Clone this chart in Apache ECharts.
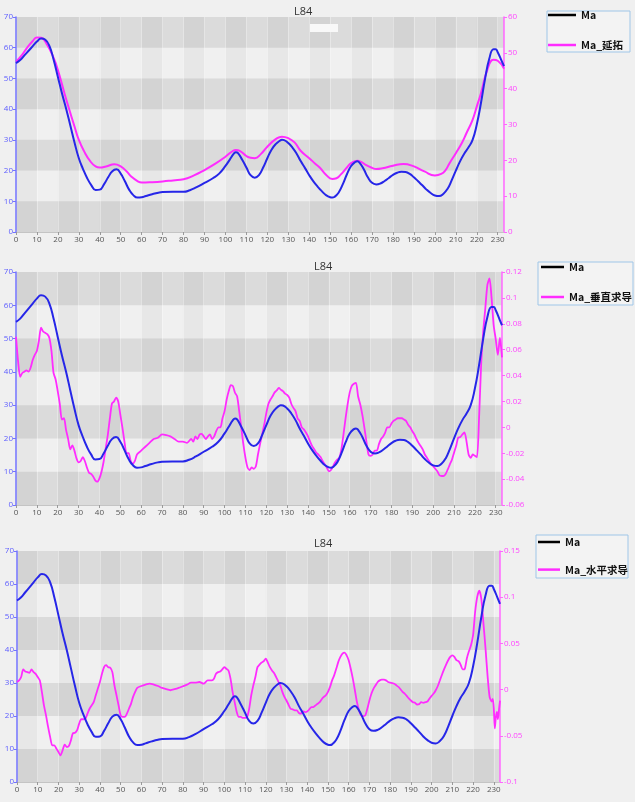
<!DOCTYPE html>
<html><head><meta charset="utf-8">
<script src="https://cdn.jsdelivr.net/npm/echarts@6/dist/echarts.min.js"></script>
<style>html,body{margin:0;padding:0;background:#f0f0f0}#c{width:635px;height:802px}</style>
</head><body><div id="c"></div>
<script>
// ---- data ----
const maX = [0,2,4,6,8,10,12,14,16,18,20,22,24,26,28,30,32,34,36,38,40,42,44,46,48,50,52,54,56,58,60,62,65,68,70,75,80,83,86,90,94,97,100,102,104,105,106,108,110,112,114,116,118,120,122,124,126,127,128,130,132,134,136,138,140,142,144,146,148,150,151,152,154,156,158,160,162,163,164,166,168,170,172,174,176,178,180,182,184,186,188,190,192,194,196,198,200,202,204,206,208,210,212,214,216,218,220,222,224,226,228,229,230,232,233];
const maY = [55,56,57.5,59,60.5,62,63,62.6,60.5,56,50.5,45,40,34.5,29,24,20.5,17.5,15.2,13.7,13.8,15.5,17.8,19.8,20.4,19,16.5,13.8,12,11.2,11.3,11.7,12.3,12.8,13,13.1,13.1,13.6,14.5,16,17.5,19,21.5,23.5,25.5,26,25.7,23.5,21,18.5,17.7,18.5,21,24,26.8,28.6,29.7,30,29.9,29,27.5,25.5,23,20.8,18.5,16.5,14.8,13.3,12,11.3,11.2,11.4,12.8,15.5,18.8,21.5,22.8,23,22.6,20.5,17.8,16,15.5,15.8,16.6,17.6,18.6,19.3,19.6,19.5,18.9,17.8,16.5,15.2,13.8,12.7,11.9,11.7,12.4,14,16.8,20,23,25.5,27.5,30,35,42,50,56.5,59.5,59.5,58.5,55.5,54];

const extX = [0,3,5,8,10,12,15,18,20,23,25,28,30,33,35,38,40,43,47,50,53,55,58,60,65,70,75,80,85,90,95,100,103,105,107,110,112,114,117,120,124,127,130,133,136,140,143,145,148,151,153,155,158,160,163,165,167,170,172,175,180,185,190,195,200,203,205,207,210,213,215,218,220,222,225,228,230,233];
const extY = [47.5,49.5,51.2,53.3,54.3,54.2,52.1,48.5,45.2,39,35,29.3,25.7,22,20.1,18.3,18,18.3,18.9,18.3,16.8,15.5,14.2,13.8,13.9,14.1,14.4,14.7,15.8,17.3,19,21,22.4,22.9,22.6,21.2,20.7,20.6,21.8,23.8,25.9,26.6,26.2,25,22.6,20.6,19,18,16,14.8,15,16,18,19.2,19.9,19.5,18.7,17.9,17.6,17.8,18.5,19,18.3,16.9,15.8,16.2,17.2,19.2,22,25,27.5,31.3,35,38.7,45.2,48.1,47.8,45.6];

const vertX = [0,1,2,3,4,5,6,7,8,9,10,11,12,13,14,15,16,17,18,19,20,21,22,23,24,25,26,27,28,29,30,31,32,33,34,35,36,37,38,39,40,41,42,43,44,45,46,47,48,49,50,51,52,53,54,55,56,57,58,
60,62,64,66,68,70,72,74,76,78,80,82,
84,85,86,87,88,89,90,91,92,93,94,95,96,97,98,99,100,101,102,103,104,105,106,107,108,109,110,111,112,113,114,115,116,117,118,119,120,121,122,123,124,125,126,127,128,129,130,131,132,133,134,135,136,137,138,139,140,141,142,143,144,145,146,147,148,149,150,151,152,153,154,155,156,157,158,159,160,161,162,163,164,165,166,167,168,169,170,171,172,173,174,175,176,177,178,179,180,181,182,183,184,185,186,187,188,189,190,191,192,193,194,195,196,197,198,199,200,201,202,203,204,205,206,207,208,209,210,211,212,213,214,215,216,217,218,219,220,221,222,223,224,225,226,227,228,229,230,231,232,233];
const vertY = [0.070,0.051,0.039,0.042,0.043,0.044,0.043,0.046,0.052,0.056,0.059,0.067,0.077,0.074,0.073,0.072,0.069,0.059,0.042,0.037,0.028,0.018,0.006,0.007,-0.002,-0.009,-0.017,-0.014,-0.018,-0.024,-0.027,-0.026,-0.023,-0.026,-0.031,-0.035,-0.036,-0.038,-0.041,-0.042,-0.0394,-0.0343,-0.0266,-0.0163,-0.006,0.0069,0.0184,0.020,0.023,0.020,0.010,0.000,-0.011,-0.020,-0.020,-0.026,-0.028,-0.026,-0.021,
-0.018,-0.015,-0.012,-0.009,-0.008,-0.0055,-0.006,-0.007,-0.009,-0.011,-0.011,-0.012,
-0.009,-0.011,-0.007,-0.009,-0.0055,-0.005,-0.007,-0.009,-0.007,-0.0055,-0.009,-0.007,-0.003,0.000,0.000,0.007,0.0125,0.0215,0.028,0.0326,0.0318,0.0267,0.024,0.0125,0.000,-0.013,-0.0235,-0.031,-0.033,-0.031,-0.032,-0.030,-0.021,-0.013,-0.0055,0.002,0.011,0.018,0.0215,0.024,0.027,0.0285,0.0305,0.029,0.028,0.026,0.025,0.023,0.018,0.015,0.0125,0.007,0.005,0.000,-0.0016,-0.004,-0.007,-0.011,-0.0145,-0.017,-0.0196,-0.021,-0.023,-0.026,-0.0286,-0.031,-0.034,-0.033,-0.030,-0.027,-0.025,-0.0235,-0.017,-0.0055,0.007,0.018,0.027,0.032,0.0336,0.0344,0.024,0.018,0.010,0.000,-0.011,-0.021,-0.022,-0.021,-0.018,-0.018,-0.013,-0.009,-0.007,-0.004,0.000,0.000,0.003,0.005,0.006,0.007,0.007,0.007,0.006,0.005,0.002,0.000,-0.003,-0.0055,-0.009,-0.012,-0.0145,-0.017,-0.021,-0.0235,-0.026,-0.0286,-0.030,-0.032,-0.034,-0.037,-0.0376,-0.0376,-0.036,-0.0325,-0.0286,-0.025,-0.0196,-0.0145,-0.008,-0.0075,-0.0055,-0.004,-0.011,-0.021,-0.0235,-0.021,-0.022,-0.023,0.007,0.0485,0.074,0.092,0.110,0.115,0.100,0.079,0.068,0.056,0.069,0.054];

const horzX = [0,1,2,3,4,5,6,7,8,9,10,11,12,13,14,15,16,17,18,19,20,21,22,23,24,25,26,27,28,29,30,31,32,33,34,35,36,37,38,39,40,41,42,43,44,45,46,47,48,49,50,51,52,53,54,55,56,57,58,
60,62,64,66,68,70,72,74,76,78,80,
82,84,86,88,90,92,94,
95,96,97,98,99,100,101,102,103,104,105,106,107,108,109,110,111,112,113,114,115,116,117,118,119,120,121,122,123,124,125,126,127,128,129,130,131,132,133,134,135,136,137,138,139,140,141,142,143,144,145,146,147,148,149,150,151,152,153,154,155,156,157,158,159,160,161,162,163,164,165,166,167,168,169,170,171,172,173,174,175,176,177,178,179,180,181,182,183,184,185,186,187,188,189,190,191,192,193,194,195,196,197,198,199,200,201,202,203,204,205,206,207,208,209,210,211,212,213,214,215,216,217,218,219,220,221,222,223,224,225,226,227,228,
229,229.5,230,230.5,231,231.5,232,232.5,233];
const horzY = [0.0082,0.010,0.0136,0.0218,0.0196,0.0189,0.0182,0.0218,0.0189,0.0171,0.0136,0.010,-0.0025,-0.0171,-0.0279,-0.0404,-0.0514,-0.0604,-0.0604,-0.0639,-0.0675,-0.0711,-0.0657,-0.0596,-0.0621,-0.0611,-0.055,-0.0471,-0.0468,-0.0439,-0.0368,-0.0321,-0.0321,-0.0314,-0.0261,-0.0207,-0.0171,-0.0136,-0.0061,0.0011,0.0082,0.0171,0.0243,0.0264,0.0243,0.0236,0.0189,0.0046,-0.0061,-0.0171,-0.0279,-0.0296,-0.0296,-0.0261,-0.0207,-0.0154,-0.0079,-0.0025,0.0018,
0.0039,0.0054,0.0064,0.0054,0.0039,0.0018,0.0004,-0.0007,0.0004,0.0018,0.0036,
0.0054,0.0075,0.0075,0.0082,0.0064,0.010,0.010,
0.0118,0.0171,0.0189,0.0196,0.0218,0.0243,0.0225,0.0207,0.0118,-0.0025,-0.0136,-0.0243,-0.0296,-0.0296,-0.0307,-0.0307,-0.0296,-0.0207,-0.0061,0.0046,0.0136,0.0243,0.0271,0.0293,0.0307,0.0336,0.0293,0.0243,0.0207,0.0179,0.0136,0.0089,0.0046,-0.0025,-0.0079,-0.0118,-0.0164,-0.0207,-0.0214,-0.0225,-0.0225,-0.0254,-0.0261,-0.0236,-0.0243,-0.0236,-0.0214,-0.0189,-0.0189,-0.0171,-0.0154,-0.0136,-0.0104,-0.0079,-0.0061,-0.0025,0.0029,0.010,0.0154,0.0225,0.030,0.0354,0.0389,0.040,0.0371,0.0318,0.0225,0.0118,-0.0007,-0.0136,-0.0225,-0.0279,-0.0286,-0.0279,-0.0207,-0.0118,-0.0043,0.0011,0.0046,0.0082,0.010,0.0107,0.0107,0.010,0.0082,0.0075,0.0071,0.0064,0.0046,0.0029,0.0004,-0.0025,-0.0043,-0.0068,-0.0096,-0.0118,-0.0136,-0.0143,-0.0161,-0.0157,-0.0136,-0.0143,-0.0136,-0.0129,-0.0096,-0.0068,-0.0043,-0.0007,0.0039,0.010,0.0161,0.0218,0.0271,0.0318,0.0354,0.0371,0.0354,0.0318,0.0307,0.0271,0.0218,0.0225,0.0336,0.0414,0.0479,0.0586,0.084,0.100,0.107,0.098,0.072,0.045,0.015,-0.008,
-0.013,-0.010,-0.020,-0.042,-0.030,-0.024,-0.032,-0.022,-0.012];

const titles = ['L84','L84','L84'];
const seriesNames = [['Ma','Ma_延拓'],['Ma','Ma_垂直求导'],['Ma','Ma_水平求导']];
const leftRange = {min:0, max:70, interval:10};
const xRange = {min:0, max:233, interval:10};
const rightRanges = [{min:0,max:60,interval:10},{min:-0.06,max:0.12,interval:0.02},{min:-0.1,max:0.15,interval:0.05}];

// ---- layout ----
const zip = (xs, ys) => xs.map((x, i) => [x, ys[i]]);
const pinkData = [zip(extX, extY), zip(vertX, vertY), zip(horzX, horzY)];
const maData = zip(maX, maY);

const grids = [
  {left:16, top:17, width:488, height:215},
  {left:16, top:272, width:486, height:233},
  {left:17, top:551, width:483, height:231}
];
const titlePos = [{left:289, top:1},{left:309, top:256},{left:309, top:533}];
const legendPos = [
  {left:548, top:8, itemWidth:28, itemGap:16},
  {left:541, top:260, itemWidth:23, itemGap:16},
  {left:538, top:535, itemWidth:22, itemGap:13.6}
];
const boxes = [
  {x:547, y:11, w:83, h:41},
  {x:538, y:262, w:95, h:43},
  {x:536, y:535, w:92, h:43}
];
const FONT = '"Open Sans", "Noto Sans", sans-serif';
const BLUE = '#2626e8', PINK = '#ff2cff';

const option = {
  backgroundColor: '#f0f0f0',
  animation: false,
  title: titles.map((t, i) => ({
    text: t, left: titlePos[i].left, top: titlePos[i].top,
    textStyle: {fontSize: 11, fontWeight: 'normal', color: '#333', fontFamily: FONT}
  })),
  legend: seriesNames.map((names, i) => ({
    orient: 'vertical', left: legendPos[i].left, top: legendPos[i].top,
    itemWidth: legendPos[i].itemWidth, itemHeight: 2.5, itemGap: legendPos[i].itemGap, padding: 0,
    icon: 'rect',
    textStyle: {fontSize: 10.5, fontWeight: 'bold', color: '#111', lineHeight: 14,
                fontFamily: '"Noto Sans CJK SC", "Noto Sans", sans-serif'},
    data: [
      {name: names[0], icon: 'rect', itemStyle: {color: '#000'}},
      {name: names[1], icon: 'rect', itemStyle: {color: PINK}}
    ]
  })),
  grid: grids.map(g => ({...g, show: true, backgroundColor: '#f6f6f6', borderWidth: 0})),
  xAxis: grids.map((g, i) => ({
    gridIndex: i, type: 'value', ...xRange,
    axisLine: {show: true, lineStyle: {color: '#c4c4c4'}},
    axisTick: {show: true, length: 3, lineStyle: {color: '#999'}},
    axisLabel: {fontSize: 8, color: '#555', margin: 4, showMaxLabel: false, fontFamily: FONT},
    splitLine: {show: true, lineStyle: {color: 'rgba(255,255,255,0.35)'}},
    splitArea: {show: true, areaStyle: {color: ['rgba(0,0,0,0.035)', 'rgba(0,0,0,0)']}}
  })),
  yAxis: [].concat(...grids.map((g, i) => [
    {
      gridIndex: i, type: 'value', position: 'left', ...leftRange,
      axisLine: {show: true, lineStyle: {color: '#7373ff', width: 1.5}},
      axisTick: {show: true, length: 3, lineStyle: {color: '#7373ff'}},
      axisLabel: {fontSize: 8, color: '#5c5cff', margin: 3, fontFamily: FONT},
      splitLine: {show: false},
      splitArea: {show: true, areaStyle: {color: ['rgba(0,0,0,0.11)', 'rgba(0,0,0,0.025)']}}
    },
    {
      gridIndex: i, type: 'value', position: 'right', ...rightRanges[i],
      axisLine: {show: true, lineStyle: {color: '#ff66ff', width: 1.5}},
      axisTick: {show: true, length: 3, lineStyle: {color: '#ff66ff'}},
      axisLabel: {fontSize: 8, color: '#ff44ff', margin: 4, fontFamily: FONT},
      splitLine: {show: false},
      splitArea: {show: false}
    }
  ])),
  series: [].concat(...seriesNames.map((names, i) => [
    {
      name: names[0], type: 'line', xAxisIndex: i, yAxisIndex: i * 2,
      data: maData, smooth: 0.5, symbol: 'none', z: 3,
      lineStyle: {color: BLUE, width: 2}, itemStyle: {color: BLUE}
    },
    {
      name: names[1], type: 'line', xAxisIndex: i, yAxisIndex: i * 2 + 1,
      data: pinkData[i], smooth: i === 0 ? 0.5 : 0.25, symbol: 'none', z: 2,
      lineStyle: {color: PINK, width: i === 0 ? 2 : 1.8}, itemStyle: {color: PINK}
    }
  ])),
  graphic: boxes.map(b => ({
    type: 'rect', shape: {x: b.x, y: b.y, width: b.w, height: b.h}, z: -1,
    style: {fill: '#f3f3f3', stroke: '#9fc6e8', lineWidth: 1}
  })).concat([
    {type: 'rect', shape: {x: 310, y: 24, width: 28, height: 8}, z: 10, style: {fill: '#f8f8f8'}}
  ])
};

const chart = echarts.init(document.getElementById('c'), null, {renderer: 'canvas'});
chart.setOption(option);
</script>
</body></html>
